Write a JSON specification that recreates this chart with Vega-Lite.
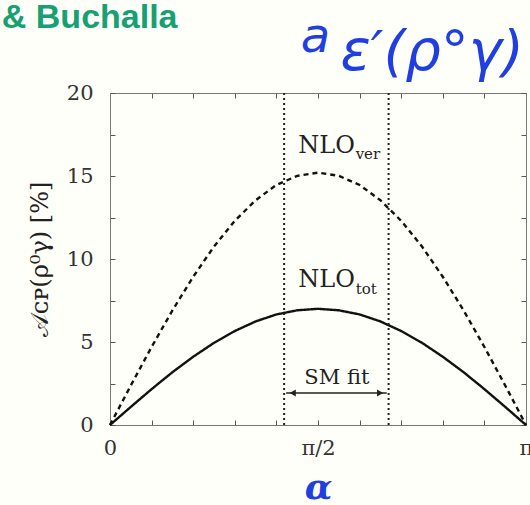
{
  "$schema": "https://vega.github.io/schema/vega-lite/v6.json",
  "width": 416,
  "height": 332,
  "autosize": "none",
  "padding": {"left": 110, "top": 93, "right": 4, "bottom": 80},
  "background": "#fffffa",
  "config": {
    "view": {"stroke": null},
    "axis": {"domainColor": "#777777", "tickColor": "#555555", "labelFont": "DejaVu Serif", "titleFont": "DejaVu Serif", "labelColor": "#333333", "grid": false}
  },
  "datasets": {
    "curves": [
      {"alpha": 0, "series": "ver", "A": 0}, {"alpha": 0.1571, "series": "ver", "A": 2.38}, {"alpha": 0.3142, "series": "ver", "A": 4.70}, {"alpha": 0.4712, "series": "ver", "A": 6.90}, {"alpha": 0.6283, "series": "ver", "A": 8.93}, {"alpha": 0.7854, "series": "ver", "A": 10.75}, {"alpha": 0.9425, "series": "ver", "A": 12.30}, {"alpha": 1.0996, "series": "ver", "A": 13.54}, {"alpha": 1.2566, "series": "ver", "A": 14.46}, {"alpha": 1.4137, "series": "ver", "A": 15.01}, {"alpha": 1.5708, "series": "ver", "A": 15.2}, {"alpha": 1.7279, "series": "ver", "A": 15.01}, {"alpha": 1.885, "series": "ver", "A": 14.46}, {"alpha": 2.042, "series": "ver", "A": 13.54}, {"alpha": 2.1991, "series": "ver", "A": 12.30}, {"alpha": 2.3562, "series": "ver", "A": 10.75}, {"alpha": 2.5133, "series": "ver", "A": 8.93}, {"alpha": 2.6704, "series": "ver", "A": 6.90}, {"alpha": 2.8274, "series": "ver", "A": 4.70}, {"alpha": 2.9845, "series": "ver", "A": 2.38}, {"alpha": 3.1416, "series": "ver", "A": 0},
      {"alpha": 0, "series": "tot", "A": 0}, {"alpha": 0.1571, "series": "tot", "A": 1.09}, {"alpha": 0.3142, "series": "tot", "A": 2.16}, {"alpha": 0.4712, "series": "tot", "A": 3.18}, {"alpha": 0.6283, "series": "tot", "A": 4.11}, {"alpha": 0.7854, "series": "tot", "A": 4.95}, {"alpha": 0.9425, "series": "tot", "A": 5.66}, {"alpha": 1.0996, "series": "tot", "A": 6.24}, {"alpha": 1.2566, "series": "tot", "A": 6.66}, {"alpha": 1.4137, "series": "tot", "A": 6.91}, {"alpha": 1.5708, "series": "tot", "A": 7.0}, {"alpha": 1.7279, "series": "tot", "A": 6.91}, {"alpha": 1.885, "series": "tot", "A": 6.66}, {"alpha": 2.042, "series": "tot", "A": 6.24}, {"alpha": 2.1991, "series": "tot", "A": 5.66}, {"alpha": 2.3562, "series": "tot", "A": 4.95}, {"alpha": 2.5133, "series": "tot", "A": 4.11}, {"alpha": 2.6704, "series": "tot", "A": 3.18}, {"alpha": 2.8274, "series": "tot", "A": 2.16}, {"alpha": 2.9845, "series": "tot", "A": 1.09}, {"alpha": 3.1416, "series": "tot", "A": 0}
    ],
    "bounds": [{"alpha": 1.315}, {"alpha": 2.104}],
    "fit": [{"a1": 1.33, "a2": 2.09, "A": 1.93}],
    "heads": [{"alpha": 1.38, "A": 1.93, "end": "left"}, {"alpha": 2.04, "A": 1.93, "end": "right"}],
    "mainlabels": [{"alpha": 1.85, "A": 16.39, "text": "NLO"}, {"alpha": 1.85, "A": 8.31, "text": "NLO"}],
    "fitlabel": [{"alpha": 1.713, "A": 2.47, "text": "SM fit"}],
    "sublabels": [{"alpha": 1.855, "A": 16.0, "text": "ver"}, {"alpha": 1.855, "A": 7.92, "text": "tot"}]
  },
  "resolve": {"axis": {"x": "independent", "y": "independent"}},
  "layer": [
    {
      "data": {"name": "curves"},
      "mark": {"type": "line", "color": "#111111", "strokeWidth": 2.4},
      "encoding": {
        "x": {"field": "alpha", "type": "quantitative", "scale": {"domain": [0, 3.14159], "nice": false, "zero": false},
          "axis": {"orient": "bottom", "title": "α", "titleColor": "#1f3fe0", "titleFont": "DejaVu Serif", "titleFontSize": 36, "titleFontStyle": "italic", "titleFontWeight": "bold", "titlePadding": 12,
            "values": [0, 0.31416, 0.62832, 0.94248, 1.25664, 1.5708, 1.88496, 2.19911, 2.51327, 2.82743, 3.14159],
            "labelExpr": "datum.value < 0.01 ? '0' : abs(datum.value - 1.5708) < 0.01 ? 'π/2' : datum.value > 3.1 ? 'π' : ''",
            "labelFontSize": 21, "labelFlush": false, "labelOverlap": false, "tickSize": -5, "labelPadding": 17}},
        "y": {"field": "A", "type": "quantitative", "scale": {"domain": [0, 20], "nice": false},
          "axis": {"orient": "left", "title": "𝒜ᴄᴘ(ρ⁰γ) [%]", "titleFontSize": 24, "titleFontWeight": "normal", "titleColor": "#222222", "titlePadding": 14,
            "values": [0, 2.5, 5, 7.5, 10, 12.5, 15, 17.5, 20],
            "labelExpr": "datum.value % 5 == 0 ? datum.label : ''",
            "labelFontSize": 21, "labelFlush": false, "labelOverlap": false, "tickSize": -5, "labelPadding": 22}},
        "strokeDash": {"field": "series", "type": "nominal", "scale": {"domain": ["ver", "tot"], "range": [[5, 4], [1, 0]]}, "legend": null}
      }
    },
    {
      "data": {"name": "bounds"},
      "mark": {"type": "rule", "color": "#222222", "strokeWidth": 2, "strokeDash": [2, 3]},
      "encoding": {
        "x": {"field": "alpha", "type": "quantitative",
          "axis": {"orient": "top", "title": null, "labels": false, "values": [0, 0.31416, 0.62832, 0.94248, 1.25664, 1.5708, 1.88496, 2.19911, 2.51327, 2.82743, 3.14159], "tickSize": -5}},
        "y": {"datum": 0, "type": "quantitative",
          "axis": {"orient": "right", "title": null, "labels": false, "values": [0, 2.5, 5, 7.5, 10, 12.5, 15, 17.5, 20], "tickSize": -5}},
        "y2": {"datum": 20}
      }
    },
    {
      "data": {"name": "fit"},
      "mark": {"type": "rule", "color": "#222222", "strokeWidth": 1.5},
      "encoding": {
        "x": {"field": "a1", "type": "quantitative", "axis": null},
        "x2": {"field": "a2"},
        "y": {"field": "A", "type": "quantitative", "axis": null}
      }
    },
    {
      "data": {"name": "heads"},
      "mark": {"type": "point", "filled": true, "color": "#222222", "size": 50, "opacity": 1},
      "encoding": {
        "x": {"field": "alpha", "type": "quantitative", "axis": null},
        "y": {"field": "A", "type": "quantitative", "axis": null},
        "shape": {"field": "end", "type": "nominal", "scale": {"domain": ["left", "right"], "range": ["triangle-left", "triangle-right"]}, "legend": null}
      }
    },
    {
      "data": {"name": "mainlabels"},
      "mark": {"type": "text", "font": "DejaVu Serif", "fontSize": 24, "color": "#222222", "baseline": "alphabetic", "align": "right"},
      "encoding": {
        "x": {"field": "alpha", "type": "quantitative", "axis": null},
        "y": {"field": "A", "type": "quantitative", "axis": null},
        "text": {"field": "text"}
      }
    },
    {
      "data": {"name": "fitlabel"},
      "mark": {"type": "text", "font": "DejaVu Serif", "fontSize": 21, "color": "#222222", "baseline": "alphabetic", "align": "center"},
      "encoding": {
        "x": {"field": "alpha", "type": "quantitative", "axis": null},
        "y": {"field": "A", "type": "quantitative", "axis": null},
        "text": {"field": "text"}
      }
    },
    {
      "data": {"name": "sublabels"},
      "mark": {"type": "text", "font": "DejaVu Serif", "fontSize": 15, "color": "#222222", "baseline": "alphabetic", "align": "left"},
      "encoding": {
        "x": {"field": "alpha", "type": "quantitative", "axis": null},
        "y": {"field": "A", "type": "quantitative", "axis": null},
        "text": {"field": "text"}
      }
    },
    {
      "data": {"values": [{"alpha": 0.51, "A": 23.9, "text": "& Buchalla"}]},
      "mark": {"type": "text", "font": "Liberation Sans", "fontSize": 34, "fontWeight": "bold", "color": "#17a072", "align": "right", "baseline": "alphabetic"},
      "encoding": {
        "x": {"field": "alpha", "type": "quantitative", "axis": null},
        "y": {"field": "A", "type": "quantitative", "axis": null},
        "text": {"field": "text"}
      }
    },
    {
      "data": {"values": [{"alpha": 1.44, "A": 22.5, "text": "a"}]},
      "mark": {"type": "text", "font": "DejaVu Sans", "fontSize": 48, "fontStyle": "italic", "color": "#1f3fe0", "align": "left", "baseline": "alphabetic"},
      "encoding": {
        "x": {"field": "alpha", "type": "quantitative", "axis": null},
        "y": {"field": "A", "type": "quantitative", "axis": null},
        "text": {"field": "text"}
      }
    },
    {
      "data": {"values": [{"alpha": 1.74, "A": 21.4, "text": "ε′(ρ°γ)"}]},
      "mark": {"type": "text", "font": "DejaVu Sans", "fontSize": 56, "fontStyle": "italic", "color": "#1f3fe0", "align": "left", "baseline": "alphabetic"},
      "encoding": {
        "x": {"field": "alpha", "type": "quantitative", "axis": null},
        "y": {"field": "A", "type": "quantitative", "axis": null},
        "text": {"field": "text"}
      }
    }
  ]
}
